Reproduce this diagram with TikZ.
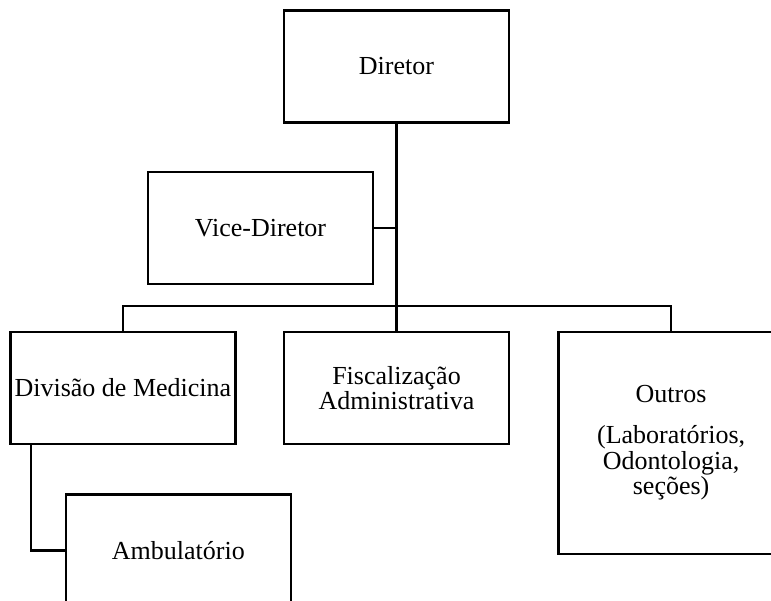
\documentclass[tikz,border=0pt]{standalone}
\usepackage{fontspec}
\setmainfont{Liberation Serif}
\usetikzlibrary{positioning}
\tikzset{
    box/.style = {
        rectangle,
        draw,
        line width=1.3pt,
        minimum width=112.5pt,
        minimum height=56pt,
        inner sep=1pt,
        align=center,
        font=\fontsize{13}{12.8}\selectfont
    },
    tallbox/.style = {box, minimum height=111pt, font=\fontsize{13}{11.4}\selectfont},
    conn/.style = {line width=1.3pt}
}

\begin{document}
\begin{tikzpicture}

% Moldura
\useasboundingbox (-198.25pt,33.25pt) rectangle (187.25pt,-266.75pt);
\clip (-198.25pt,33.25pt) rectangle (187.25pt,-266.75pt);

% Direção
\node[box] (dir) at (0,0) {Diretor};
\node[box, below=23.5pt of dir, xshift=-68pt] (vice) {Vice-Diretor};

% Divisões
\node[box, below=103.5pt of dir] (fisc) {Fiscalização\\Administrativa};
\node[box, left=23pt of fisc] (med) {Divisão de Medicina};
\node[tallbox, right=23.5pt of fisc, yshift=-27.5pt] (outros) {Outros\\[9pt](Laboratórios,\\Odontologia,\\seções)};

\node[box, below=24pt of med, xshift=27.75pt] (amb) {Ambulatório};

% Ligações
\coordinate (bus) at (0,-119.75pt);
\draw[conn] (dir) -- (fisc);
\draw[conn] (vice) -- (vice -| dir);
\draw[conn] (med.north) |- (bus) -| (outros.north);
\draw[conn] ([xshift=11pt]med.south west) |- (amb.west);

\end{tikzpicture}
\end{document}
